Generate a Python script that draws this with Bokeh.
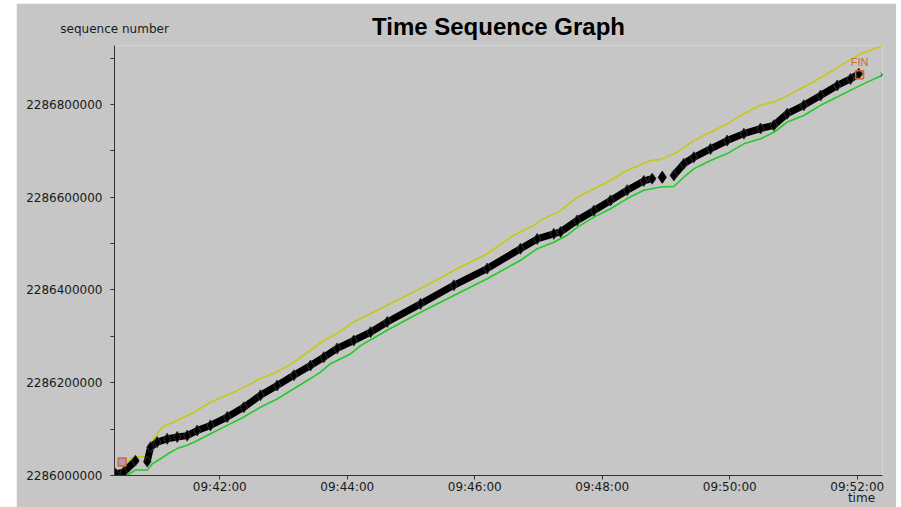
from bokeh.plotting import figure
from bokeh.models import Range1d, FixedTicker, Spacer, LinearAxis
from bokeh.layouts import row, column
from bokeh.embed import file_html
from bokeh.resources import INLINE

# ---- data (time in seconds after 09:40:00, sequence numbers) ----
win_t = [23.7, 37.5, 50.1, 54.8, 61.1, 65.8, 79.9, 95.5, 111.2, 127.0, 142.6, 158.3, 174.0,
         189.7, 205.4, 217.9, 230.5, 246.1, 277.6, 309.0, 340.3, 371.7, 396.8, 415.6, 421.9,
         440.8, 456.4, 472.1, 487.8, 503.5, 525.4, 534.9, 550.6, 566.2, 581.9, 597.6, 613.3,
         629.0, 641.5, 654.1, 676.1, 691.8, 707.4, 723.1, 743.8]
win_seq = [2286004000, 2286039000, 2286041000, 2286068000, 2286090000, 2286104000, 2286119000,
           2286136000, 2286158000, 2286173000, 2286190000, 2286209000, 2286223000, 2286244000,
           2286270000, 2286291000, 2286306000, 2286331000, 2286367000, 2286403000, 2286442000,
           2286478000, 2286518000, 2286539000, 2286550000, 2286571000, 2286600000, 2286618000,
           2286636000, 2286658000, 2286679000, 2286681000, 2286697000, 2286722000, 2286740000,
           2286758000, 2286780000, 2286798000, 2286805000, 2286819000, 2286845000, 2286866000,
           2286888000, 2286909000, 2286926000]

ack_t = [32.8, 40.6, 51.7, 56.4, 64.2, 72.0, 79.9, 89.3, 98.7, 111.2, 127.0, 142.6, 158.3, 174.0,
         189.7, 205.4, 214.8, 224.2, 243.0, 252.5, 277.6, 309.0, 340.3, 371.7, 403.1, 418.8,
         434.4, 447.0, 456.4, 472.1, 487.8, 503.5, 519.1, 534.9, 547.4, 556.8, 566.2, 581.9,
         597.6, 613.3, 629.0, 641.5, 654.1, 669.7, 685.5, 701.2, 716.8, 729.4, 743.6]
ack_seq = [2286000000, 2286012000, 2286012000, 2286025000, 2286036000, 2286048000, 2286058000,
           2286065000, 2286075000, 2286090000, 2286108000, 2286126000, 2286147000, 2286165000,
           2286187000, 2286209000, 2286223000, 2286241000, 2286262000, 2286280000, 2286313000,
           2286352000, 2286388000, 2286424000, 2286464000, 2286489000, 2286503000, 2286518000,
           2286535000, 2286557000, 2286575000, 2286597000, 2286615000, 2286622000, 2286623000,
           2286643000, 2286661000, 2286679000, 2286694000, 2286715000, 2286726000, 2286740000,
           2286762000, 2286776000, 2286798000, 2286816000, 2286834000, 2286848000, 2286863000]

segA_t = [21.9, 29.6, 40.6]
segA_seq = [2286004000, 2286007000, 2286032000]

segB_t = [51.7, 54.8, 61.1, 70.5, 79.9, 89.3, 98.7, 111.2, 127.0, 142.6, 158.3, 174.0, 189.7,
          205.4, 217.9, 230.5, 246.1, 261.9, 277.6, 309.0, 340.3, 371.7, 403.1, 418.8, 434.4,
          440.8, 456.4, 472.1, 487.8, 503.5, 519.1, 527.0]
segB_seq = [2286030000, 2286061000, 2286072000, 2286079000, 2286083000, 2286086000, 2286097000,
            2286108000, 2286126000, 2286147000, 2286173000, 2286194000, 2286216000, 2286237000,
            2286255000, 2286274000, 2286291000, 2286309000, 2286331000, 2286370000, 2286410000,
            2286446000, 2286489000, 2286510000, 2286521000, 2286525000, 2286550000, 2286571000,
            2286593000, 2286615000, 2286635000, 2286640000]

segC_t = [536.5]
segC_seq = [2286643000]

segD_t = [547.4, 556.8, 566.2, 581.9, 597.6, 613.3, 629.0, 641.5, 654.1, 669.7, 685.5, 701.2,
          713.7, 721.5]
segD_seq = [2286647000, 2286672000, 2286686000, 2286704000, 2286722000, 2286737000, 2286748000,
            2286755000, 2286780000, 2286798000, 2286819000, 2286841000, 2286855000, 2286866000]

syn_t, syn_seq = [28.1], [2286029000]
fin_t, fin_seq = [722.2], [2286864000]
end_t, end_seq = [743.8], [2286864000]

x_ticks = [120, 240, 360, 480, 600, 720]
x_tick_labels = ["09:42:00", "09:44:00", "09:46:00", "09:48:00", "09:50:00", "09:52:00"]
y_ticks = [2286000000, 2286200000, 2286400000, 2286600000, 2286800000]
y_minor = [2286100000, 2286300000, 2286500000, 2286700000, 2286900000]
y_tick_labels = ["2286000000", "2286200000", "2286400000", "2286600000", "2286800000"]

title_text = "Time Sequence Graph"
y_title, y_title_at = "sequence number", 21
x_title, x_title_at = "time", 724

BG = "#c6c6c6"
FONT = "DejaVu Sans"
TXT = "#1a1a1a"

p = figure(width=880, height=504, output_backend="svg", toolbar_location=None,
           x_range=Range1d(20.9, 743.8), y_range=Range1d(2286000000, 2286927000),
           min_border_left=98, min_border_right=14, min_border_top=42, min_border_bottom=32)
p.background_fill_color = BG
p.border_fill_color = BG
p.outline_line_color = None
p.grid.visible = False

for ax in (p.xaxis[0], p.yaxis[0]):
    ax.axis_line_color = "#333333"
    ax.major_tick_line_color = "#333333"
    ax.minor_tick_line_color = "#333333"
    ax.major_tick_in = 0
    ax.major_tick_out = 4
    ax.minor_tick_in = 0
    ax.minor_tick_out = 4
    ax.major_label_text_font = FONT
    ax.major_label_text_font_size = "12px"
    ax.major_label_text_color = TXT

p.xaxis.ticker = FixedTicker(ticks=x_ticks)
p.xaxis.major_label_overrides = dict(zip(x_ticks, x_tick_labels))
p.xaxis.major_label_standoff = 0
p.yaxis.ticker = FixedTicker(ticks=y_ticks, minor_ticks=y_minor)
p.yaxis.major_label_overrides = dict(zip(y_ticks, y_tick_labels))
p.yaxis.major_label_standoff = 8

# top axis: carries "sequence number" (as tick label) and the chart title (as axis label)
top_ax = LinearAxis(ticker=FixedTicker(ticks=[y_title_at]),
                    major_label_overrides={y_title_at: y_title},
                    major_label_standoff=10, major_tick_in=0, major_tick_out=0,
                    axis_line_color=None, major_tick_line_color=None,
                    minor_tick_line_color=None,
                    major_label_text_font=FONT, major_label_text_font_size="12px",
                    major_label_text_color=TXT,
                    axis_label=title_text, axis_label_standoff=-21,
                    axis_label_text_font="Liberation Sans", axis_label_text_font_style="bold",
                    axis_label_text_font_size="24px", axis_label_text_color="black")
p.add_layout(top_ax, "above")

# second bottom axis: carries "time"
bot_ax = LinearAxis(ticker=FixedTicker(ticks=[x_title_at]),
                    major_label_overrides={x_title_at: x_title},
                    major_label_standoff=-6, major_tick_in=0, major_tick_out=0,
                    axis_line_color=None, major_tick_line_color=None,
                    minor_tick_line_color=None,
                    major_label_text_font=FONT, major_label_text_font_size="12px",
                    major_label_text_color=TXT)
p.add_layout(bot_ax, "below")

YELLOW = "#c8c814"
GREEN = "#22cc22"

p.line(win_t, win_seq, line_color=YELLOW, line_width=1.6)
p.line(ack_t, ack_seq, line_color=GREEN, line_width=1.6)

for tt, ss in ((segA_t, segA_seq), (segB_t, segB_seq), (segD_t, segD_seq)):
    p.line(tt, ss, line_color="black", line_width=7, line_join="round", line_cap="round")
    p.scatter(tt, ss, marker="diamond", size=11, fill_color="black", line_color="#333333")
p.scatter(segC_t, segC_seq, marker="diamond", size=12, fill_color="black", line_color="black")

ORANGE = "#cc6a33"
p.scatter(syn_t, syn_seq, marker="square", size=8, fill_color="#9966cc", fill_alpha=0.5,
          line_color=ORANGE, line_width=1.5)
p.scatter(fin_t, fin_seq, marker="square", size=8, fill_color=None, line_color=ORANGE,
          line_width=1.5)
p.text(fin_t, [fin_seq[0] + 27000], text=["FIN"], text_color=ORANGE, text_font_size="11px",
       text_align="center", text_baseline="middle")
p.scatter(end_t, end_seq, marker="x", size=5, line_color="#224422", line_width=1)

layout = column(Spacer(width=10, height=3), row(Spacer(width=16, height=10), p))
open("out.html", "w").write(file_html(layout, INLINE))
